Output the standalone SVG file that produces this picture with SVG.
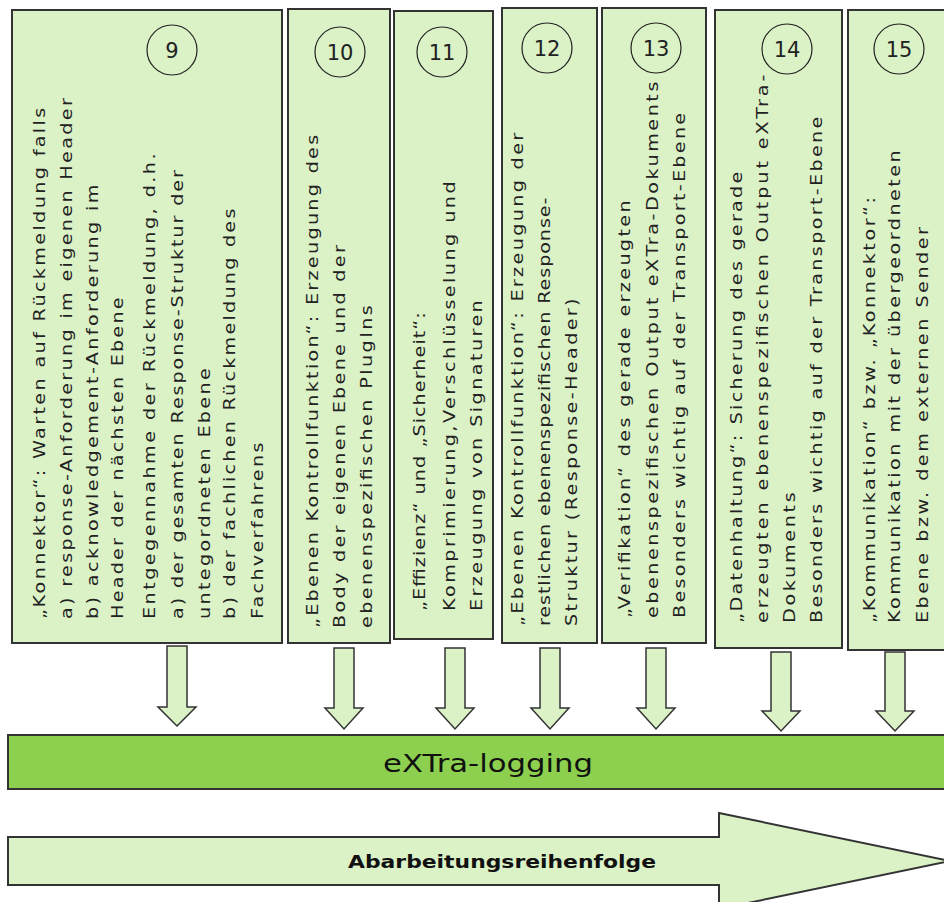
<svg xmlns="http://www.w3.org/2000/svg" width="944" height="902" viewBox="0 0 944 902">
<style>
.box{fill:#dbf1c6;stroke:#333;stroke-width:2}
.t{font-family:"DejaVu Sans","Liberation Sans",sans-serif;font-size:16px;fill:#222}
.num{font-family:"DejaVu Sans","Liberation Sans",sans-serif;font-size:21px;fill:#222;text-anchor:middle}
.circ{fill:none;stroke:#222;stroke-width:1.2}
.arr{fill:#dbf1c6;stroke:#333;stroke-width:1.5;stroke-linejoin:miter}
</style>
<rect width="944" height="902" fill="#ffffff"/>

<g id="node9">
<rect class="box" x="12" y="10" width="270" height="633"/>
<circle class="circ" cx="172" cy="50" r="25"/>
<text class="num" x="172" y="58">9</text>
<text class="t" transform="translate(45,619) rotate(-90) scale(1.2,1)" textLength="426" lengthAdjust="spacing">„Konnektor“: Warten auf Rückmeldung falls</text>
<text class="t" transform="translate(72,619) rotate(-90) scale(1.2,1)" textLength="434" lengthAdjust="spacing">a) response-Anforderung im eigenen Header</text>
<text class="t" transform="translate(98,619) rotate(-90) scale(1.2,1)" textLength="362" lengthAdjust="spacing">b) acknowledgement-Anforderung im</text>
<text class="t" transform="translate(123,619) rotate(-90) scale(1.2,1)" textLength="268" lengthAdjust="spacing">Header der nächsten Ebene</text>
<text class="t" transform="translate(155,619) rotate(-90) scale(1.2,1)" textLength="388" lengthAdjust="spacing">Entgegennahme der Rückmeldung, d.h.</text>
<text class="t" transform="translate(183,619) rotate(-90) scale(1.2,1)" textLength="374" lengthAdjust="spacing">a) der gesamten Response-Struktur der</text>
<text class="t" transform="translate(210,619) rotate(-90) scale(1.2,1)" textLength="209" lengthAdjust="spacing">untegordneten Ebene</text>
<text class="t" transform="translate(235,619) rotate(-90) scale(1.2,1)" textLength="342" lengthAdjust="spacing">b) der fachlichen Rückmeldung des</text>
<text class="t" transform="translate(263,619) rotate(-90) scale(1.2,1)" textLength="147" lengthAdjust="spacing">Fachverfahrens</text>
</g>

<g id="node10">
<rect class="box" x="288" y="9" width="102" height="634"/>
<circle class="circ" cx="340" cy="52" r="25"/>
<text class="num" x="340" y="60">10</text>
<text class="t" transform="translate(318,628) rotate(-90) scale(1.2,1)" textLength="411" lengthAdjust="spacing">„Ebenen Kontrollfunktion“: Erzeugung des</text>
<text class="t" transform="translate(345,628) rotate(-90) scale(1.2,1)" textLength="319" lengthAdjust="spacing">Body der eigenen Ebene und der</text>
<text class="t" transform="translate(372,628) rotate(-90) scale(1.2,1)" textLength="269" lengthAdjust="spacing">ebenenspezifischen PlugIns</text>
</g>

<g id="node11">
<rect class="box" x="394" y="11" width="99" height="628"/>
<circle class="circ" cx="442" cy="52" r="25"/>
<text class="num" x="442" y="60">11</text>
<text class="t" transform="translate(425,611) rotate(-90) scale(1.2,1)" textLength="249" lengthAdjust="spacing">„Effizienz“ und „Sicherheit“:</text>
<text class="t" transform="translate(455,611) rotate(-90) scale(1.2,1)" textLength="358" lengthAdjust="spacing">Komprimierung,Verschlüsselung und</text>
<text class="t" transform="translate(482,611) rotate(-90) scale(1.2,1)" textLength="259" lengthAdjust="spacing">Erzeugung von Signaturen</text>
</g>

<g id="node12">
<rect class="box" x="502" y="8" width="95" height="635"/>
<circle class="circ" cx="547" cy="48" r="25"/>
<text class="num" x="547" y="56">12</text>
<text class="t" transform="translate(523,626) rotate(-90) scale(1.2,1)" textLength="411" lengthAdjust="spacing">„Ebenen Kontrollfunktion“: Erzeugung der</text>
<text class="t" transform="translate(550,626) rotate(-90) scale(1.2,1)" textLength="357" lengthAdjust="spacing">restlichen ebenenspezifischen Response-</text>
<text class="t" transform="translate(577,626) rotate(-90) scale(1.2,1)" textLength="273" lengthAdjust="spacing">Struktur (Response-Header)</text>
</g>

<g id="node13">
<rect class="box" x="602" y="8" width="104" height="635"/>
<circle class="circ" cx="656" cy="48" r="25"/>
<text class="num" x="656" y="56">13</text>
<text class="t" transform="translate(630,618) rotate(-90) scale(1.2,1)" textLength="348" lengthAdjust="spacing">„Verifikation“ des gerade erzeugten</text>
<text class="t" transform="translate(658,618) rotate(-90) scale(1.2,1)" textLength="447" lengthAdjust="spacing">ebenenspezifischen Output eXTra-Dokuments</text>
<text class="t" transform="translate(685,618) rotate(-90) scale(1.2,1)" textLength="421" lengthAdjust="spacing">Besonders wichtig auf der Transport-Ebene</text>
</g>

<g id="node14">
<rect class="box" x="715" y="10" width="127" height="638"/>
<circle class="circ" cx="787" cy="49" r="25"/>
<text class="num" x="787" y="57">14</text>
<text class="t" transform="translate(742,623) rotate(-90) scale(1.2,1)" textLength="376" lengthAdjust="spacing">„Datenhaltung“: Sicherung des gerade</text>
<text class="t" transform="translate(768,623) rotate(-90) scale(1.2,1)" textLength="457" lengthAdjust="spacing">erzeugten ebenenspezifischen Output eXTra-</text>
<text class="t" transform="translate(795,623) rotate(-90) scale(1.2,1)" textLength="109" lengthAdjust="spacing">Dokuments</text>
<text class="t" transform="translate(822,623) rotate(-90) scale(1.2,1)" textLength="422" lengthAdjust="spacing">Besonders wichtig auf der Transport-Ebene</text>
</g>

<g id="node15">
<rect class="box" x="848" y="10" width="104" height="640"/>
<circle class="circ" cx="899" cy="49" r="25"/>
<text class="num" x="899" y="57">15</text>
<text class="t" transform="translate(875,623) rotate(-90) scale(1.2,1)" textLength="355" lengthAdjust="spacing">„Kommunikation“ bzw. „Konnektor“:</text>
<text class="t" transform="translate(900,623) rotate(-90) scale(1.2,1)" textLength="394" lengthAdjust="spacing">Kommunikation mit der übergeordneten</text>
<text class="t" transform="translate(928,623) rotate(-90) scale(1.2,1)" textLength="330" lengthAdjust="spacing">Ebene bzw. dem externen Sender</text>
</g>

<g id="connectors">
<polygon class="arr" points="167,646 187,646 187,707 196,707 177,726 158,707 167,707"/>
<polygon class="arr" points="334,648 354,648 354,708 363,708 344,729 325,708 334,708"/>
<polygon class="arr" points="445,648 465,648 465,708 474,708 455,729 436,708 445,708"/>
<polygon class="arr" points="540,648 560,648 560,708 569,708 550,729 531,708 540,708"/>
<polygon class="arr" points="646,648 666,648 666,708 675,708 656,729 637,708 646,708"/>
<polygon class="arr" points="771,652 791,652 791,711 800,711 781,731 762,711 771,711"/>
<polygon class="arr" points="885,652 905,652 905,711 914,711 895,731 876,711 885,711"/>
</g>

<g id="logging">
<rect x="8" y="735" width="944" height="54" fill="#8dd04f" stroke="#333" stroke-width="2"/>
<text x="488" y="772" font-family="DejaVu Sans, Liberation Sans, sans-serif" font-size="24" fill="#111" text-anchor="middle" textLength="210" lengthAdjust="spacingAndGlyphs">eXTra-logging</text>
</g>

<g id="order">
<polygon points="8,837 719,837 719,813 950,861 719,909 719,885 8,885" fill="#dbf1c6" stroke="#333" stroke-width="2"/>
<text x="502" y="868" font-family="DejaVu Sans, Liberation Sans, sans-serif" font-size="17" font-weight="bold" fill="#111" text-anchor="middle" textLength="308" lengthAdjust="spacingAndGlyphs">Abarbeitungsreihenfolge</text>
</g>
</svg>
